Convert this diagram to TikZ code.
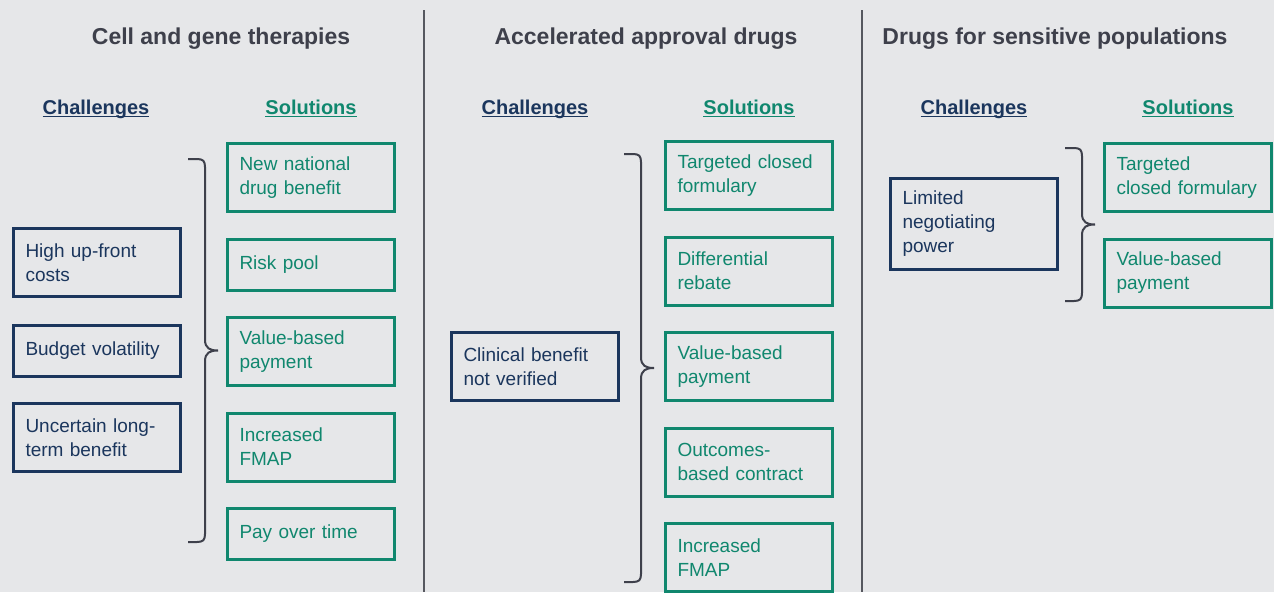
\documentclass[tikz,border=0pt]{standalone}
\usepackage{fontspec}
\setmainfont{Liberation Sans}
\usetikzlibrary{positioning}
\definecolor{bgcol}{HTML}{E6E7E9}
\definecolor{navycol}{HTML}{1B365D}
\definecolor{greencol}{HTML}{10876E}
\definecolor{titlecol}{HTML}{3E404B}
\definecolor{rulecol}{HTML}{56585F}
\newcommand{\ulword}[1]{\setbox0\hbox{#1}\rlap{\rule[-3.2pt]{\wd0}{1.6pt}}\box0}
% curly bracket: #1 = left x, #2 = top y, #3 = bottom y
\newcommand{\curlybracket}[3]{%
  \pgfmathsetmacro\bmid{(#2+#3)/2}%
  \pgfmathsetmacro\bxa{#1+9}\pgfmathsetmacro\bxb{#1+17}\pgfmathsetmacro\bxc{#1+22}\pgfmathsetmacro\bxd{#1+30}%
  \draw[bracket] (#1,#2) -- (\bxa,#2) .. controls (\bxb-2,#2) and (\bxb,#2+2) .. (\bxb,#2+8)
    -- (\bxb,\bmid-11) .. controls (\bxb,\bmid-2) and (\bxc,\bmid) .. (\bxd,\bmid)
    .. controls (\bxc,\bmid) and (\bxb,\bmid+2) .. (\bxb,\bmid+11)
    -- (\bxb,#3-8) .. controls (\bxb,#3-2) and (\bxb-2,#3) .. (\bxa,#3) -- (#1,#3);}

\begin{document}
\begin{tikzpicture}[
  x=1pt, y=-1pt,
  node distance=24.5pt,
  box/.style={
    line width=3pt, inner xsep=12pt, inner ysep=2pt, text width=143pt,
    minimum height=51pt, align=left, font=\fontsize{19}{24}\selectfont,
  },
  chal/.style={box, draw=navycol, text=navycol},
  sol/.style={box, draw=greencol, text=greencol},
  two/.style={minimum height=68pt},
  three/.style={minimum height=91pt},
  paneltitle/.style={font=\fontsize{23}{26}\selectfont\bfseries, text=titlecol, anchor=base},
  colhead/.style={font=\fontsize{20}{24}\selectfont\bfseries, anchor=base},
  bracket/.style={line width=2pt, draw=titlecol},
  divider/.style={line width=2pt, draw=rulecol}
]

\useasboundingbox (0,0) rectangle (1274,592);
\fill[bgcol] (0,0) rectangle (1274,592);

% Dividers between panels
\coordinate (div1top) at (424,10);
\coordinate (div1bot) at (424,592);
\coordinate (div2top) at (862,10);
\coordinate (div2bot) at (862,592);
\draw[divider] (div1top) -- (div1bot);
\draw[divider] (div2top) -- (div2bot);

% Panel titles
\node[paneltitle] (title1) at (221,44) {Cell and gene therapies};
\node[paneltitle] (title2) at (646,44) {Accelerated approval drugs};
\node[paneltitle] (title3) at (1055,44) {Drugs for sensitive populations};

% Column headings
\node[colhead, text=navycol] (chalhead1) at (96,114) {\ulword{Challenges}};
\node[colhead, text=greencol] (solhead1) at (311,114) {\ulword{Solutions}};
\node[colhead, text=navycol] (chalhead2) at (535,114) {\ulword{Challenges}};
\node[colhead, text=greencol] (solhead2) at (749,114) {\ulword{Solutions}};
\node[colhead, text=navycol] (chalhead3) at (974,114) {\ulword{Challenges}};
\node[colhead, text=greencol] (solhead3) at (1188,114) {\ulword{Solutions}};

% Panel 1: cell and gene therapies
\node[chal, two, anchor=north west] (upfront) at (12,227) {High up-front\\costs};
\node[chal, below=26pt of upfront] (budget) {Budget volatility};
\node[chal, two, below=24pt of budget] (longterm) {Uncertain long-\\term benefit};

\node[sol, two, anchor=north west] (natbenefit) at (226,142) {New national\\drug benefit};
\node[sol, below=of natbenefit] (riskpool) {Risk pool};
\node[sol, two, below=of riskpool] (valuepay1) {Value-based\\payment};
\node[sol, two, below=of valuepay1] (fmap1) {Increased\\FMAP};
\node[sol, below=of fmap1] (paytime) {Pay over time};

\curlybracket{188}{159}{542}

% Panel 2: accelerated approval drugs
\node[chal, two, anchor=north west] (clinical) at (450,331) {Clinical benefit\\not verified};

\node[sol, two, anchor=north west] (closedform2) at (664,140) {Targeted closed\\formulary};
\node[sol, two, below=of closedform2] (rebate) {Differential\\rebate};
\node[sol, two, below=of rebate] (valuepay2) {Value-based\\payment};
\node[sol, two, below=of valuepay2] (outcomes) {Outcomes-\\based contract};
\node[sol, two, below=of outcomes] (fmap2) {Increased\\FMAP};

\curlybracket{624}{154}{582}

% Panel 3: drugs for sensitive populations
\node[chal, three, anchor=north west] (negotiate) at (889,177) {Limited\\negotiating\\power};

\node[sol, two, anchor=north west] (closedform3) at (1103,142) {Targeted\\closed formulary};
\node[sol, two, below=of closedform3] (valuepay3) {Value-based\\payment};

\curlybracket{1065}{148}{301}

\end{tikzpicture}
\end{document}
